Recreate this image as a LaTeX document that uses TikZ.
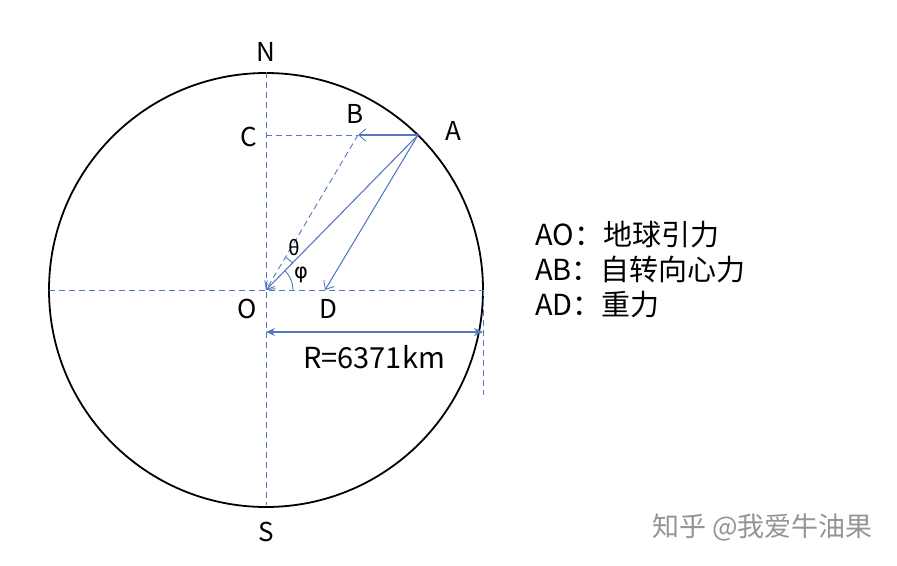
\documentclass[tikz,border=0pt]{standalone}
\usepackage{fontspec}
\setmainfont{Noto Sans CJK SC}
\newfontfamily\grk{DejaVu Sans}
\usetikzlibrary{arrows.meta}
\definecolor{vblue}{RGB}{84,120,190}
\tikzset{
  dsh/.style={vblue, line width=0.9pt, dash pattern=on 6pt off 4pt},
  vec/.style={vblue, line width=1.1pt, -{Straight Barb[length=7pt,width=12pt,line width=0.9pt]}},
  lbl/.style={font=\fontsize{26}{28}\selectfont, inner sep=0pt},
  leg/.style={font=\fontsize{29}{32}\selectfont, inner sep=0pt, anchor=west},
}
\begin{document}
\begin{tikzpicture}[x=1pt,y=-1pt]
\useasboundingbox (0,0) rectangle (897,565);
\coordinate (O) at (266,290);
\coordinate (A) at (418,135);
\coordinate (B) at (358,135);
\coordinate (C) at (266,135);
\coordinate (D) at (325,290);
\coordinate (Ntop) at (266,72);
\coordinate (Sbot) at (266,505);
\coordinate (Wl) at (49,290);
\coordinate (Er) at (483,290);
\coordinate (R1) at (266,332);
\coordinate (R2) at (483,332);
\coordinate (Rb) at (483,395);
% circle
\draw[line width=1.8pt] (O) circle[radius=217];
% axes
\draw[dsh] (Ntop) -- (Sbot);
\draw[dsh] (Wl) -- (Er);
\draw[dsh] (C) -- (B);
\draw[dsh] (Er) -- (Rb);
% vectors
\draw[vec] (A) -- (B);
\draw[vec] (A) -- (O);
\draw[vec] (A) -- (D);
\draw[dsh, -{Straight Barb[length=7pt,width=12pt,line width=0.9pt]}] (B) -- (O);
% angle arcs
\draw[vblue, line width=0.9pt] ([shift={(27,0)}]O) arc[start angle=0, end angle=-45.6, radius=27];
\draw[vblue, line width=0.9pt] ([shift={(-45.6:38)}]O) arc[start angle=-45.6, end angle=-59.3, radius=38];
% dimension
\draw[vblue, line width=1.1pt, {Stealth[length=9pt,width=8pt]}-{Stealth[length=9pt,width=8pt]}] (R1) -- (R2);
% labels
\node[lbl] (nN) at (266,52) {N};
\node[lbl] (nS) at (266,532) {S};
\node[lbl] (nC) at (249,137) {C};
\node[lbl] (nB) at (355,114) {B};
\node[lbl] (nA) at (453,131) {A};
\node[lbl] (nO) at (247,309) {O};
\node[lbl] (nD) at (328,309) {D};
\node[lbl, font=\fontsize{20}{22}\selectfont] (nth) at (294,248) {θ};
\node[lbl, font=\grk\fontsize{21}{23}\selectfont] (nph) at (301,275) {φ};
\node[lbl, font=\fontsize{29}{32}\selectfont] (nR) at (374,357) {R=6371km};
% legend
\node[leg] (l1) at (535,235) {AO：地球引力};
\node[leg] (l2) at (535,270) {AB：自转向心力};
\node[leg] (l3) at (535,305) {AD：重力};
% watermark
\node[leg, text=black!42, font=\fontsize{27}{29}\selectfont] (wm) at (652,527) {知乎 @我爱牛油果};
\end{tikzpicture}
\end{document}
